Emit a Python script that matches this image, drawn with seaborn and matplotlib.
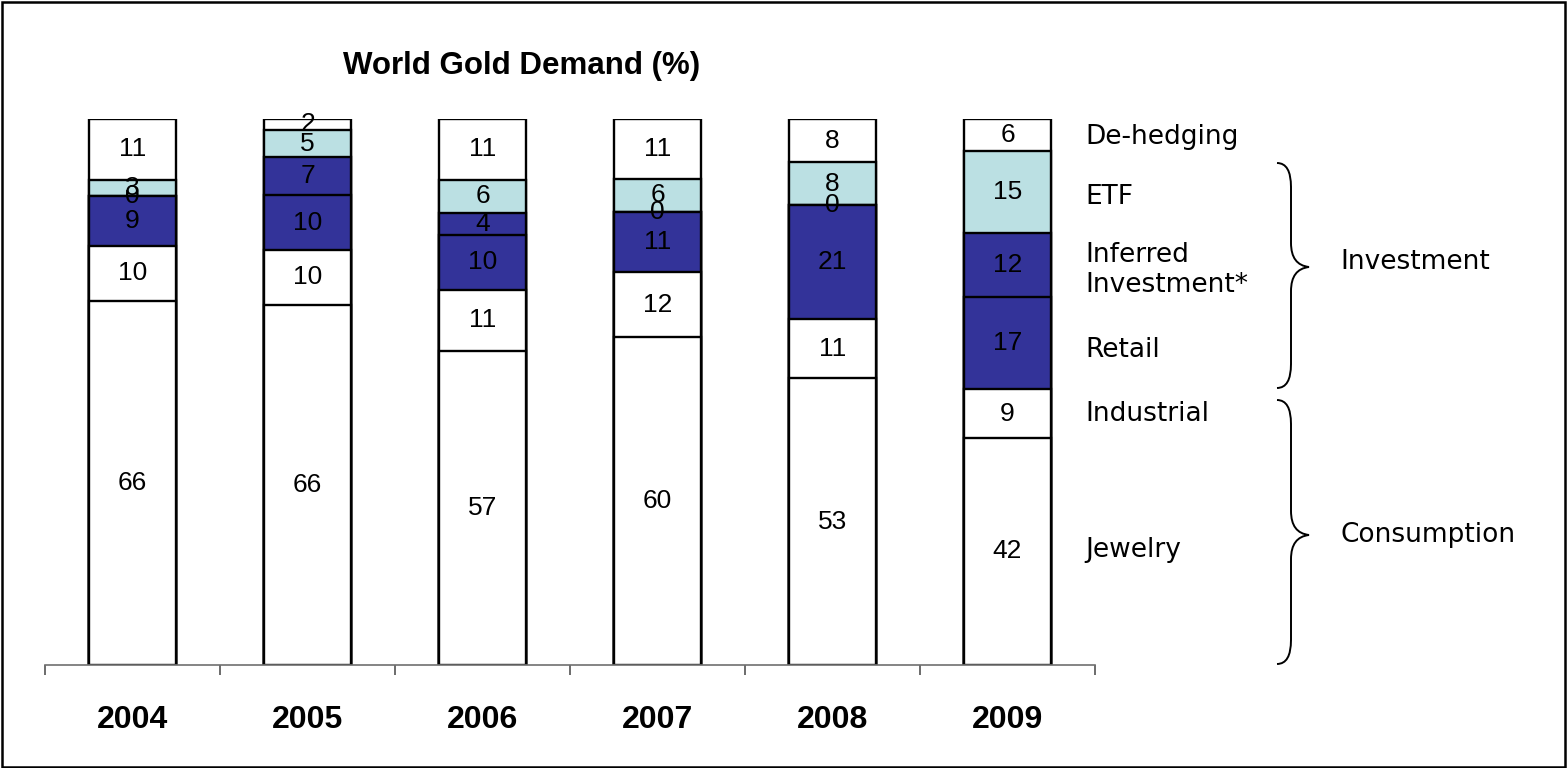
import numpy as np
import pandas as pd
import matplotlib
matplotlib.use("Agg")
import matplotlib.pyplot as plt
from matplotlib.path import Path
from matplotlib.patches import PathPatch, Rectangle
import seaborn as sns

# ---- data ----
years = ["2004", "2005", "2006", "2007", "2008", "2009"]
components = ["Jewelry", "Industrial", "Retail", "Inferred Investment*", "ETF", "De-hedging"]
jewelry = [66, 66, 57, 60, 53, 42]
industrial = [10, 10, 11, 12, 11, 9]
retail = [9, 10, 10, 11, 21, 17]
inferred = [0, 7, 4, 0, 0, 12]
etf = [3, 5, 6, 6, 8, 15]
dehedging = [11, 2, 11, 11, 8, 6]
series = [jewelry, industrial, retail, inferred, etf, dehedging]
seg_colors = ["#FFFFFF", "#FFFFFF", "#333399", "#333399", "#BBE0E3", "#FFFFFF"]

title = "World Gold Demand (%)"
right_labels = ["De-hedging", "ETF", "Inferred\nInvestment*", "Retail", "Industrial", "Jewelry"]
group_labels = ["Investment", "Consumption"]

sns.set_style("white")
plt.rcParams["font.family"] = ["Liberation Sans", "DejaVu Sans"]
plt.rcParams["text.color"] = "black"
plt.rcParams["xtick.color"] = "black"
plt.rcParams["xtick.labelcolor"] = "black"

W, H = 1568, 768
fig = plt.figure(figsize=(W / 100, H / 100), dpi=100)
ax = fig.add_axes([45 / W, 1 - 665 / H, 1050 / W, 546 / H])

vals = np.array(series, dtype=float)          # shape (components, years)
totals = vals.sum(axis=0)
shares = vals / totals * 100                  # 100% stacked
cum = np.cumsum(shares, axis=0)

# draw from the top layer down so each cumulative bar overlays the previous
for j in range(len(components) - 1, -1, -1):
    df = pd.DataFrame({"year": years, "value": cum[j]})
    sns.barplot(data=df, x="year", y="value", color=seg_colors[j], saturation=1,
                edgecolor="black", linewidth=1.7, width=0.5, errorbar=None, ax=ax)

# segment labels
for i in range(len(years)):
    for j in range(len(components)):
        lo = cum[j - 1, i] if j > 0 else 0.0
        mid = lo + shares[j, i] / 2
        ax.text(i, mid, f"{int(vals[j, i])}", ha="center", va="center",
                fontsize=19, color="black", family=["Liberation Sans", "DejaVu Sans"])

ax.set_xlim(-0.5, len(years) - 0.5)
ax.set_ylim(0, 100)
ax.set_xlabel("")
ax.set_ylabel("")
ax.set_yticks([])
for s in ["left", "right", "top"]:
    ax.spines[s].set_visible(False)
ax.spines["bottom"].set_color("#707070")
ax.spines["bottom"].set_linewidth(1.2)
ax.set_xticks(range(len(years)))
ax.set_xticklabels(years, fontsize=23, fontweight="bold", color="black")
ax.set_xticks(np.arange(-0.5, len(years), 1), minor=True)
ax.tick_params(axis="x", which="major", length=0, pad=29, bottom=True)
ax.tick_params(axis="x", which="minor", length=7.5, width=1.3, color="#606060",
               direction="out", bottom=True)
ax.patch.set_alpha(0)

# title
fig.text(522 / W, 1 - 66 / H, title, ha="center", va="center",
         fontsize=22.5, fontweight="bold", color="black")

# right-hand labels
label_y = [137, 197, 270, 350, 414, 550]
for lab, y in zip(right_labels, label_y):
    fig.text(1085 / W, 1 - y / H, lab, ha="left", va="center", fontsize=19,
             family=["DejaVu Sans"], linespacing=1.2, color="black")

fig.text(1340 / W, 1 - 262 / H, group_labels[0], ha="left", va="center",
         fontsize=19, family=["DejaVu Sans"], color="black")
fig.text(1340 / W, 1 - 535 / H, group_labels[1], ha="left", va="center",
         fontsize=19, family=["DejaVu Sans"], color="black")


def brace(y_top, y_mid, y_bot, x0=1277, x1=1291, xt=1309, r=24):
    pts = [
        (x0, y_top), (x1, y_top), (x1, y_top + r),
        (x1, y_mid - r),
        (x1, y_mid - 2), (xt, y_mid),
        (x1, y_mid + 2), (x1, y_mid + r),
        (x1, y_bot - r),
        (x1, y_bot), (x0, y_bot),
    ]
    codes = [Path.MOVETO, Path.CURVE3, Path.CURVE3, Path.LINETO,
             Path.CURVE3, Path.CURVE3, Path.CURVE3, Path.CURVE3,
             Path.LINETO, Path.CURVE3, Path.CURVE3]
    pts = [(x / W, 1 - y / H) for x, y in pts]
    p = PathPatch(Path(pts, codes), transform=fig.transFigure, fill=False,
                  edgecolor="black", linewidth=1.4)
    fig.patches.append(p)


brace(163, 267, 388)
brace(400, 535, 664)

# outer frame
fig.patches.append(Rectangle((1.5 / W, 1.5 / H), (W - 4.5) / W, (H - 3) / H,
                             transform=fig.transFigure, fill=False,
                             edgecolor="black", linewidth=1.8))

fig.savefig("out.png", dpi=100)
